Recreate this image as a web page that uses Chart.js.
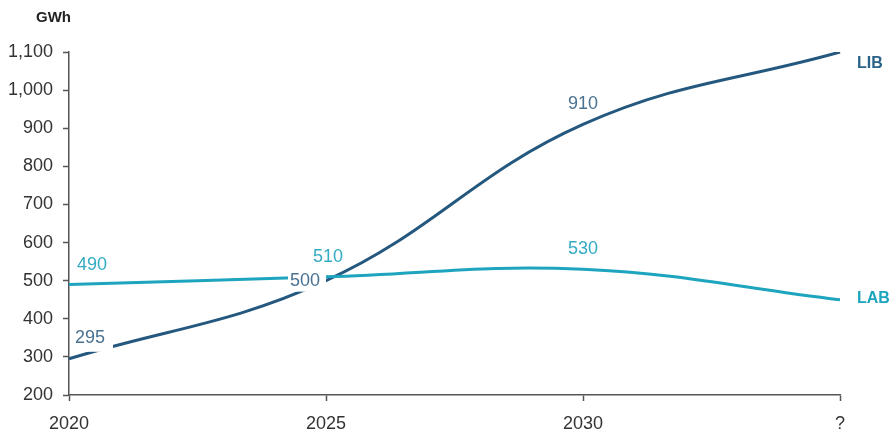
<!DOCTYPE html>
<html>
<head>
<meta charset="utf-8">
<script src="https://cdn.jsdelivr.net/npm/chart.js@4.4.1/dist/chart.umd.min.js"></script>
<style>
  html, body { margin: 0; padding: 0; background: #fff; }
</style>
</head>
<body>
<canvas id="chart" width="890" height="439"></canvas>
<script>
// data
const years = ["2020", "2025", "2030", "?"];
const libValues = [295, 500, 910, 1100];
const labValues = [490, 510, 530, 450];
const yMin = 200;
const yMax = 1100;
const yStep = 100;
const unitLabel = "GWh";

const FONT = '"Liberation Sans Narrow", "Arial Narrow", "Liberation Sans", Arial, sans-serif';
const LIB_COLOR = "#25587f";
const LAB_COLOR = "#1da4be";
const LIB_TEXT = "#4a7190";
const LAB_TEXT = "#33abc2";

// value labels with a white box behind them, plus the series names at the right
const valueLabels = {
  id: "valueLabels",
  afterDatasetsDraw(chart, args, opts) {
    const ctx = chart.ctx;
    ctx.save();
    ctx.textBaseline = "middle";
    ctx.textAlign = "left";
    ctx.font = `18px ${FONT}`;
    opts.items.forEach((it) => {
      const pt = chart.getDatasetMeta(it.ds).data[it.idx];
      const text = String(chart.data.datasets[it.ds].data[it.idx]);
      const w = ctx.measureText(text).width;
      const x = pt.x + it.dx;
      const y = pt.y + it.dy;
      const left = it.align === "right" ? x - w : x - w / 2;
      ctx.fillStyle = "#fff";
      ctx.fillRect(left - 2, y - 9, w + it.padR, 18 + it.padB);
      ctx.fillStyle = it.color;
      ctx.fillText(text, left, y);
    });

    // series names
    ctx.font = `bold 16px ${FONT}`;
    chart.data.datasets.forEach((ds, i) => {
      const meta = chart.getDatasetMeta(i);
      const last = meta.data[meta.data.length - 1];
      ctx.fillStyle = ds.nameColor;
      ctx.fillText(ds.label, last.x + 17, last.y + ds.nameDy);
    });

    // unit title
    ctx.font = `bold 15px ${FONT}`;
    ctx.fillStyle = "#222";
    ctx.fillText(unitLabel, 36, 18);
    ctx.restore();
  },
};

const ctx = document.getElementById("chart");

new Chart(ctx, {
  type: "line",
  data: {
    labels: years,
    datasets: [
      {
        label: "LAB",
        data: labValues,
        borderColor: LAB_COLOR,
        borderWidth: 3,
        tension: 0.4,
        pointRadius: 0,
        fill: false,
        nameColor: LAB_COLOR,
        nameDy: -1,
      },
      {
        label: "LIB",
        data: libValues,
        borderColor: LIB_COLOR,
        borderWidth: 3,
        tension: 0.4,
        pointRadius: 0,
        fill: false,
        nameColor: "#2b6288",
        nameDy: 12,
      },
    ],
  },
  options: {
    responsive: false,
    animation: false,
    layout: { padding: { top: 52, right: 50, left: 0, bottom: 0 } },
    plugins: {
      legend: { display: false },
      tooltip: { enabled: false },
      valueLabels: {
        items: [
          { ds: 0, idx: 0, dx: 23, dy: -19, align: "center", color: LAB_TEXT, padR: 4, padB: 0 },
          { ds: 1, idx: 0, dx: 21, dy: -21, align: "center", color: LIB_TEXT, padR: 10, padB: 5 },
          { ds: 1, idx: 1, dx: -6, dy: 0, align: "right", color: LIB_TEXT, padR: 8, padB: 2 },
          { ds: 0, idx: 1, dx: 2, dy: -20, align: "center", color: LAB_TEXT, padR: 4, padB: 0 },
          { ds: 1, idx: 2, dx: 0, dy: -20, align: "center", color: LIB_TEXT, padR: 4, padB: 0 },
          { ds: 0, idx: 2, dx: 0, dy: -20, align: "center", color: LAB_TEXT, padR: 4, padB: 0 },
        ],
      },
    },
    scales: {
      x: {
        offset: false,
        grid: { drawOnChartArea: false, drawTicks: true, tickLength: 6, tickColor: "#555", tickWidth: 1.5 },
        border: { color: "#555", width: 1.5 },
        ticks: { font: { family: FONT, size: 18 }, color: "#333", padding: 12, maxRotation: 0 },
        afterFit(scale) { scale.height = 44; },
      },
      y: {
        min: yMin,
        max: yMax,
        grid: { drawOnChartArea: false, drawTicks: true, tickLength: 6, tickColor: "#555", tickWidth: 1.5 },
        border: { color: "#555", width: 1.5 },
        ticks: {
          stepSize: yStep,
          font: { family: FONT, size: 18 },
          color: "#333",
          padding: 10,
          callback: (v) => v.toLocaleString("en-US"),
        },
        afterFit(scale) { scale.width = 69; },
      },
    },
  },
  plugins: [valueLabels],
});
</script>
</body>
</html>
